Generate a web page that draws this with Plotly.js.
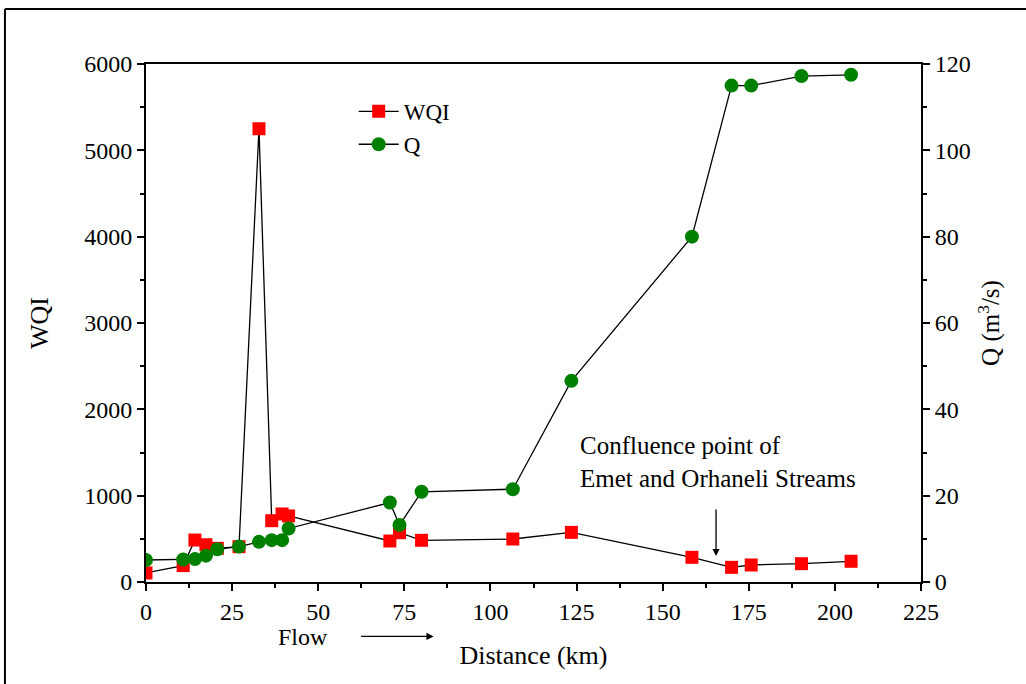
<!DOCTYPE html>
<html>
<head>
<meta charset="utf-8">
<script src="https://cdn.plot.ly/plotly-3.0.1.min.js"></script>
<style>html,body{margin:0;padding:0;background:#fff;}#chart{width:1026px;height:684px;}</style>
</head>
<body>
<div id="chart"></div>
<script>
// Distance along the stream (km)
const distance = [0, 10.8, 14.2, 17.4, 20.7, 27, 32.8, 36.5, 39.5, 41.4, 70.8, 73.6, 80, 106.5, 123.5, 158.5, 170, 175.7, 190.3, 204.7];
// Water Quality Index
const wqi = [105, 190, 486, 432, 390, 409, 5250, 710, 788, 765, 475, 571, 483, 498, 575, 286, 170, 197, 212, 240];
// Discharge Q (m3/s)
const q = [5.1, 5.2, 5.3, 6.1, 7.6, 8.2, 9.3, 9.7, 9.7, 12.4, 18.4, 13.2, 20.9, 21.5, 46.6, 80, 115, 115, 117.2, 117.5];

const xTicks = [0, 25, 50, 75, 100, 125, 150, 175, 200, 225];
const wqiTicks = [0, 1000, 2000, 3000, 4000, 5000, 6000];
const qTicks = [0, 20, 40, 60, 80, 100, 120];

const FONT = 'Liberation Serif, Times New Roman, serif';

const traces = [
  {
    x: distance, y: wqi, name: 'WQI', type: 'scatter', mode: 'lines+markers',
    line: {color: '#000000', width: 1.3},
    marker: {symbol: 'square', size: 13, color: '#ff0000', line: {width: 0}},
    yaxis: 'y'
  },
  {
    x: distance, y: q, name: 'Q', type: 'scatter', mode: 'lines+markers',
    line: {color: '#000000', width: 1.3},
    marker: {symbol: 'circle', size: 14, color: '#008000', line: {width: 0}},
    yaxis: 'y2'
  }
];

const axisCommon = {
  showline: true, linecolor: '#000', linewidth: 2,
  ticks: 'outside', ticklen: 7, tickwidth: 2, tickcolor: '#000',
  showgrid: false, zeroline: false,
  tickfont: {family: FONT, size: 24, color: '#000'}
};

const layout = {
  width: 1026, height: 684,
  margin: {l: 146, r: 105, t: 64, b: 102},
  paper_bgcolor: '#ffffff', plot_bgcolor: '#ffffff',
  font: {family: FONT, color: '#000'},
  showlegend: true,
  legend: {
    x: 0.268, y: 0.95, xanchor: 'left', yanchor: 'top',
    bgcolor: 'rgba(255,255,255,1)', borderwidth: 0,
    font: {family: FONT, size: 23, color: '#000'},
    tracegroupgap: 0, itemwidth: 40
  },
  xaxis: Object.assign({}, axisCommon, {
    range: [0, 225], tickmode: 'array', tickvals: xTicks, ticktext: xTicks.map(String),
    mirror: true,
    minor: {ticks: 'outside', ticklen: 4, tickwidth: 2, tickcolor: '#000', dtick: 12.5, tick0: 0},
    title: {text: 'Distance (km)', font: {family: FONT, size: 26, color: '#000'}, standoff: 22}
  }),
  yaxis: Object.assign({}, axisCommon, {
    range: [0, 6000], tickmode: 'array', tickvals: wqiTicks, ticktext: wqiTicks.map(String),
    minor: {ticks: 'outside', ticklen: 4, tickwidth: 2, tickcolor: '#000', dtick: 500, tick0: 0},
    title: {text: 'WQI', font: {family: FONT, size: 26, color: '#000'}, standoff: 28}
  }),
  yaxis2: Object.assign({}, axisCommon, {
    range: [0, 120], overlaying: 'y', side: 'right', anchor: 'x',
    tickmode: 'array', tickvals: qTicks, ticktext: qTicks.map(String),
    minor: {ticks: 'outside', ticklen: 4, tickwidth: 2, tickcolor: '#000', dtick: 10, tick0: 0},
    title: {text: 'Q (m<sup>3</sup>/s)', font: {family: FONT, size: 25, color: '#000'}, standoff: 12}
  }),
  annotations: [
    {
      text: 'Confluence point of<br>Emet and Orhaneli Streams',
      xref: 'x', yref: 'y', x: 125.5, y: 1760, xanchor: 'left', yanchor: 'top',
      align: 'left', showarrow: false,
      font: {family: FONT, size: 25, color: '#000'}
    },
    {
      text: '', xref: 'x', yref: 'y', x: 165.5, y: 300,
      showarrow: true, ax: 0, ay: -48, arrowhead: 2, arrowsize: 1.1, arrowwidth: 1.3, arrowcolor: '#000'
    },
    {
      text: 'Flow', xref: 'x', yref: 'paper', x: 45.5, y: -0.106, yanchor: 'middle',
      showarrow: false, font: {family: FONT, size: 24, color: '#000'}
    },
    {
      text: '', xref: 'x', yref: 'paper', x: 83.5, y: -0.105,
      showarrow: true, ax: -74, ay: 0, arrowhead: 2, arrowsize: 1.1, arrowwidth: 1.3, arrowcolor: '#000'
    }
  ],
  shapes: [
    {type: 'line', xref: 'paper', yref: 'paper', x0: -0.182, x1: 1.2, y0: 1.106, y1: 1.106, line: {color: '#000', width: 2}},
    {type: 'line', xref: 'paper', yref: 'paper', x0: -0.182, x1: -0.182, y0: 1.106, y1: -0.25, line: {color: '#000', width: 2}}
  ]
};

Plotly.newPlot('chart', traces, layout, {displayModeBar: false, staticPlot: true});
</script>
</body>
</html>
